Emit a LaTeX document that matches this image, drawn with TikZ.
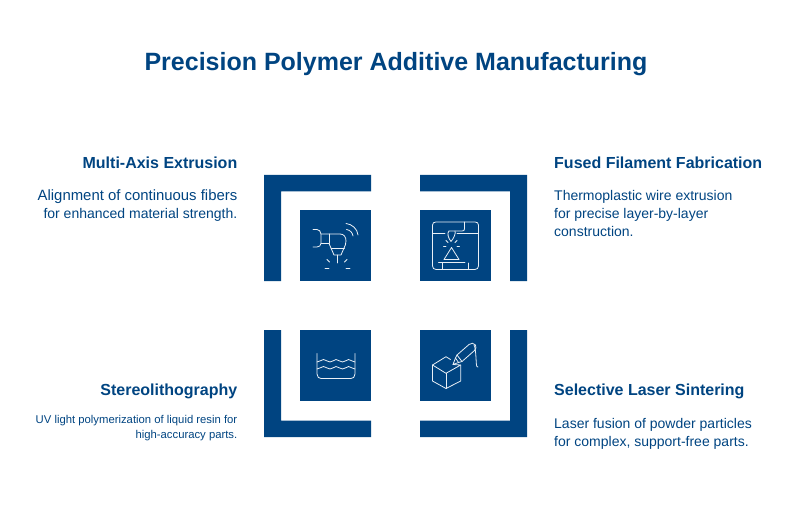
\documentclass[tikz,border=0pt]{standalone}
\usepackage{fontspec}
\setmainfont{Liberation Sans}
\definecolor{navy}{HTML}{004481}
\definecolor{ink}{HTML}{EAF0F6}
\tikzset{
  block/.style={fill=navy,draw=none},
  icon/.style={draw=ink,line width=0.8pt,line cap=round,line join=round},
  head/.style={text=navy,font=\fontsize{16}{18}\selectfont\bfseries,inner sep=0pt},
  body/.style={text=navy,font=\fontsize{14}{18}\selectfont,inner sep=0pt,align=left},
  bodyr/.style={text=navy,font=\fontsize{14}{18}\selectfont,inner sep=0pt,align=right},
  small/.style={text=navy,font=\fontsize{11.3}{15.5}\selectfont,inner sep=0pt,align=right}
}
\begin{document}
\begin{tikzpicture}[x=1pt,y=-1pt]
\useasboundingbox (0,0) rectangle (796,516);
\node[text=navy,font=\fontsize{25}{30}\selectfont\bfseries,inner sep=0pt,anchor=center] (title) at (396,64) {Precision Polymer Additive Manufacturing};
% blocks
\fill[block] (264,175) -- (371,175) -- (371,191.5) -- (281,191.5) -- (281,281) -- (264,281) -- cycle;
\fill[block] (300,210) rectangle (371,281);
\fill[block] (420,175) -- (527,175) -- (527,281) -- (510,281) -- (510,191.5) -- (420,191.5) -- cycle;
\fill[block] (420,210) rectangle (491,281);
\fill[block] (264,330) -- (281,330) -- (281,420.5) -- (371,420.5) -- (371,437) -- (264,437) -- cycle;
\fill[block] (300,330) rectangle (371,401);
\fill[block] (510,330) -- (527,330) -- (527,437) -- (420,437) -- (420,420.5) -- (510,420.5) -- cycle;
\fill[block] (420,330) rectangle (491,401);
% texts
\node[head,anchor=east] (h1) at (237.5,163) {Multi-Axis Extrusion};
\node[bodyr,anchor=north east] (b1) at (237.5,190) {{\fontsize{14.9}{18}\selectfont Alignment of continuous fibers}\\for enhanced material strength.};
\node[head,anchor=west] (h2) at (554,163) {Fused Filament Fabrication};
\node[body,anchor=north west] (b2) at (554,190) {Thermoplastic wire extrusion\\for precise layer-by-layer\\construction.};
\node[head,anchor=east] (h3) at (237.5,391) {Stereolithography};
\node[small,anchor=north east] (b3) at (237.5,415) {UV light polymerization of liquid resin for\\high-accuracy parts.};
\node[head,anchor=west] (h4) at (554,391) {Selective Laser Sintering};
\node[body,anchor=north west] (b4) at (554,418) {Laser fusion of powder particles\\for complex, support-free parts.};
% icon 1
\draw[icon] (313,229.5) -- (317,229.5) .. controls (319.5,229.5) and (320.5,231.5) .. (321,234) -- (321,243.5) .. controls (320.5,245.5) and (319.5,247) .. (317,247) -- (313,247);
\draw[icon] (321,234) -- (340,234) .. controls (344,234) and (346,237) .. (346,241) .. controls (346,244) and (345,246) .. (344,248) -- (341,255) -- (334,255) -- (331,248) -- (329,243.5) -- (321,243.5);
\draw[icon] (329,234) -- (329,243.5);
\draw[icon] (331,248) -- (344.5,248);
\draw[icon] (337.5,255) -- (337.5,263);
\draw[icon] (327,259.5) -- (329.5,262);
\draw[icon] (347,259.5) -- (344.5,262);
\draw[icon] (325,268.5) -- (329,268.5);
\draw[icon] (346,268.5) -- (350,268.5);
\draw[icon] (346,223.5) .. controls (352,224) and (357.5,229) .. (358,235);
\draw[icon] (346.5,229.5) .. controls (350,230) and (352.5,232.5) .. (353,236);
% icon 2
\draw[icon] (432.5,225) .. controls (432.5,223) and (434,222) .. (436,222) -- (475,222) .. controls (477,222) and (478.5,223) .. (478.5,225) -- (478.5,266) .. controls (478.5,268) and (477,269.5) .. (475,269.5) -- (436,269.5) .. controls (434,269.5) and (432.5,268) .. (432.5,266) -- cycle;
\draw[icon] (432.5,233.5) -- (445,233.5);
\draw[icon] (457,233.5) -- (478.5,233.5);
\draw[icon] (464.5,222) -- (464.5,229) .. controls (464.5,230.5) and (463.5,231) .. (462,231) -- (449,231);
\draw[icon] (449,231) .. controls (447,233) and (448,238) .. (451,241.5) .. controls (454,238) and (456,233) .. (455,231);
\draw[icon] (451.5,247.5) -- (459,259.5) -- (444,259.5) -- cycle;
\draw[icon] (438.5,262.5) -- (465,262.5);
\draw[icon] (442.5,262.5) -- (442.5,269.5);
\draw[icon] (468.5,263) -- (468.5,269.5);
\draw[icon] (446,240.5) -- (448,242.5);
\draw[icon] (457,240.5) -- (455,242.5);
\draw[icon] (443.5,246) -- (446,246);
\draw[icon] (457,246) -- (459.5,246);
% icon 3
\draw[icon] (317,353.5) -- (317,374) .. controls (317,377) and (319,378.5) .. (321,378.5) -- (351,378.5) .. controls (353,378.5) and (355,377) .. (355,374) -- (355,353.5);
\draw[icon] (317,362) .. controls (320,362) and (321,359.5) .. (323.5,359.5) .. controls (326,359.5) and (327,362) .. (330,362) .. controls (333,362) and (334,359.5) .. (336,359.5) .. controls (338.5,359.5) and (339.5,362) .. (342.5,362) .. controls (345.5,362) and (346.5,359.5) .. (348.5,359.5) .. controls (351,359.5) and (352,362) .. (355,362);
\draw[icon] (317,369) .. controls (320,369) and (321,366.5) .. (323.5,366.5) .. controls (326,366.5) and (327,369) .. (330,369) .. controls (333,369) and (334,366.5) .. (336,366.5) .. controls (338.5,366.5) and (339.5,369) .. (342.5,369) .. controls (345.5,369) and (346.5,366.5) .. (348.5,366.5) .. controls (351,366.5) and (352,369) .. (355,369);
% icon 4
\draw[icon] (450.5,359.5) -- (446,356.7) -- (432.5,365) -- (446,373.3) -- (460.7,365) -- (453,364.5);
\draw[icon] (432.5,365) -- (432.5,381) -- (446,388.5) -- (460.7,381) -- (460.7,365);
\draw[icon] (446,373.3) -- (446,388.5);
\draw[icon] (457,355) -- (469,344.5) .. controls (471,342.5) and (474,343) .. (475.5,345) .. controls (476.5,347) and (476,349) .. (474.5,350.5) -- (462,361.5) -- (457,355);
\draw[icon] (457,355) -- (455.5,358) -- (458.5,362.5) -- (462,361.5);
\draw[icon] (455.5,358) -- (453,364.5) -- (458.5,362.5);
\draw[icon] (474,345) .. controls (476,348) and (476,362) .. (476.5,365) .. controls (476.7,366.5) and (477,367) .. (478,367);
\end{tikzpicture}
\end{document}
